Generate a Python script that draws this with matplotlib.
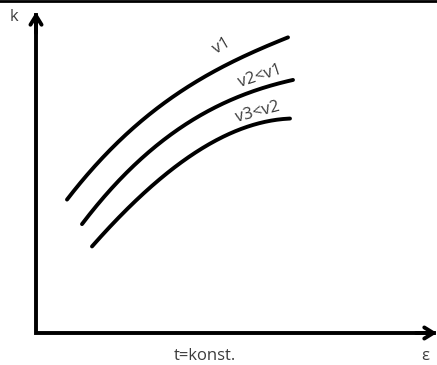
import matplotlib
matplotlib.use("Agg")
import matplotlib.pyplot as plt
import numpy as np

# curve data (epsilon, k) in arbitrary units
eps_v1 = [31, 64, 104, 144, 184, 219, 252]
k_v1 = [134, 171, 212, 241, 265, 281, 296]
eps_v2 = [46, 74, 104, 144, 184, 221, 257]
k_v2 = [109, 142, 175, 203, 229, 243, 253]
eps_v3 = [56, 79, 104, 144, 184, 219, 254]
k_v3 = [87, 111, 136, 170, 196, 207, 215]

curve_labels = ["v1", "v2<v1", "v3<v2"]
x_label = "t=konst."
x_symbol = "ε"
y_symbol = "k"

plt.rcParams['font.family'] = ['Open Sans', 'DejaVu Sans']

fig = plt.figure(figsize=(4.37, 3.65), dpi=100)
ax = fig.add_axes([0, 0, 1, 1])
ax.set_xlim(-36, 401)
ax.set_ylim(-32, 333)
ax.axis('off')

def smooth(x, y):
    x = np.asarray(x, float); y = np.asarray(y, float)
    t = np.linspace(x[0], x[-1], 200)
    c = np.polyfit(x, y, 3)
    return t, np.polyval(c, t)

for ex, ky in [(eps_v1, k_v1), (eps_v2, k_v2), (eps_v3, k_v3)]:
    tx, ty = smooth(ex, ky)
    ax.plot(tx, ty, color='black', lw=2.8, solid_capstyle='round')

# axes arrows
arrow = dict(arrowstyle='->, head_width=0.4, head_length=0.65', lw=2.8, color='black',
             shrinkA=0, shrinkB=0)
ax.plot([0, 0, 398], [318, 0, 0], color='black', lw=2.8, solid_joinstyle='miter')
ax.annotate('', xy=(401, 0), xytext=(380, 0), arrowprops=arrow)
ax.annotate('', xy=(0, 321), xytext=(0, 300), arrowprops=arrow)

# top border
ax.plot([0, 1], [0.998, 0.998], transform=ax.transAxes, color='black', lw=2, clip_on=False)

tc = '#3c3c3c'
fs = 12
ax.text(-22, 316, y_symbol, fontsize=fs, color=tc, ha='center', va='center')
ax.text(169, -23, x_label, fontsize=fs, color=tc, ha='center', va='center')
ax.text(389, -23, x_symbol, fontsize=fs, color=tc, ha='center', va='center')
ax.text(186, 287, curve_labels[0], fontsize=fs, color=tc, ha='center', va='center', rotation=30)
ax.text(224, 257, curve_labels[1], fontsize=fs, color=tc, ha='center', va='center', rotation=18)
ax.text(222, 221, curve_labels[2], fontsize=fs, color=tc, ha='center', va='center', rotation=15)

fig.savefig('out.png', dpi=100)
